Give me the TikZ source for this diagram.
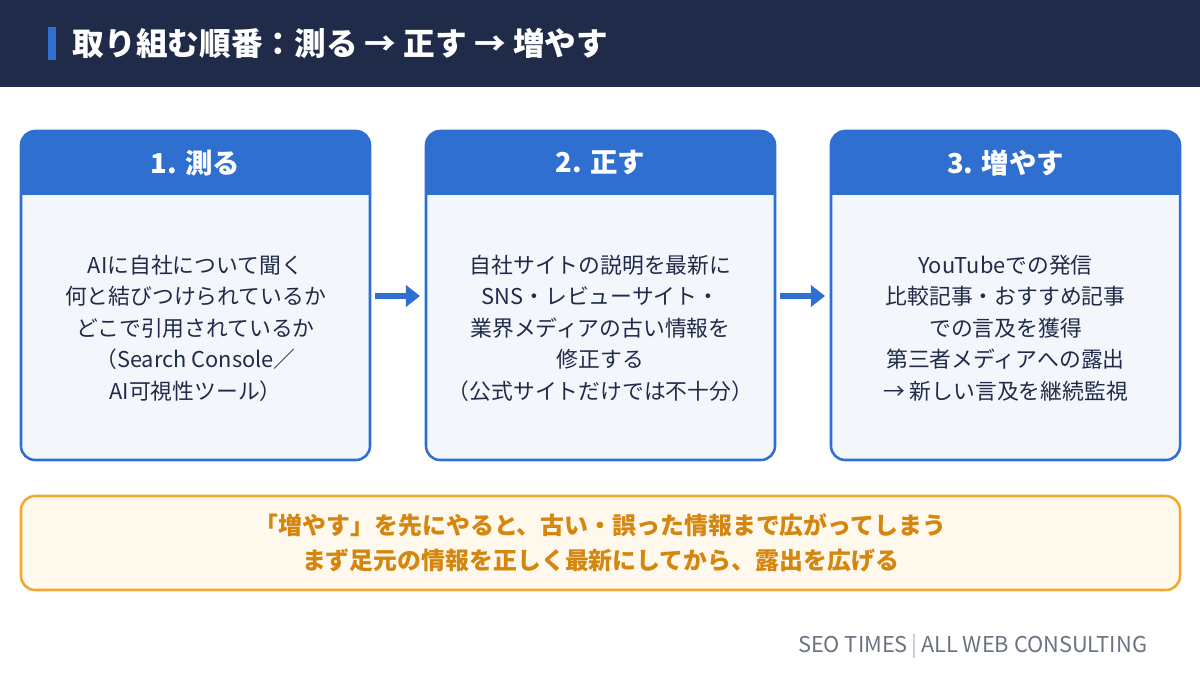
\documentclass[tikz,border=0pt]{standalone}
\usepackage{fontspec}
\setmainfont{Noto Sans CJK JP}
\usetikzlibrary{arrows.meta}
\definecolor{navy}{HTML}{1F2B48}
\definecolor{mainblue}{HTML}{2F6FCF}
\definecolor{bodyfill}{HTML}{F3F7FC}
\definecolor{warnfill}{HTML}{FFF8EC}
\definecolor{warnline}{HTML}{F0A830}
\definecolor{warntext}{HTML}{D4860F}
\definecolor{foot}{HTML}{6B7280}
\tikzset{
  steptitle/.style={text=white, font=\fontsize{19.5}{22}\selectfont\bfseries},
  stepbody/.style={text=navy, align=center, font=\fontsize{15.5}{22.4}\selectfont},
  flow/.style={mainblue, line width=4.2pt, -{Triangle[length=10pt,width=15pt]}},
}
\begin{document}
\begin{tikzpicture}[x=0.025cm, y=-0.025cm]
  \useasboundingbox (0,0) rectangle (1200,675);
  % header band
  \fill[navy] (0,0) rectangle (1200,87);
  \fill[mainblue] (48,27) rectangle (56,60);
  \node[anchor=west, text=white, font=\fontsize{22.5}{26}\selectfont\bfseries] (title) at (68,43)
    {取り組む順番：測る → 正す → 増やす};
  % three steps
  \foreach \x/\name/\head/\body in {
      21/s1/1. 測る/{AIに自社について聞く\\何と結びつけられているか\\どこで引用されているか\\（Search Console／\\AI可視性ツール）},
      426/s2/2. 正す/{自社サイトの説明を最新に\\SNS・レビューサイト・\\業界メディアの古い情報を\\修正する\\（公式サイトだけでは不十分）},
      831/s3/3. 増やす/{YouTubeでの発信\\比較記事・おすすめ記事\\での言及を獲得\\第三者メディアへの露出\\→ 新しい言及を継続監視}} {
    \draw[mainblue, line width=1.8pt, fill=bodyfill, rounded corners=10] (\x,131) rectangle ++(349,329);
    \begin{scope}
      \clip (\x,131) rectangle ++(349,64);
      \fill[mainblue, rounded corners=10] (\x,131) rectangle ++(349,329);
    \end{scope}
    \node[steptitle] (\name-head) at (\x+174.5,163) {\head};
    \node[stepbody] (\name) at (\x+174.5,328) {\body};
    \coordinate (\name-w) at (\x-6,296);
    \coordinate (\name-e) at (\x+354,296);
  }
  \draw[flow] (s1-e) -- (s2-w);
  \draw[flow] (s2-e) -- (s3-w);
  % warning
  \draw[warnline, line width=1.8pt, fill=warnfill, rounded corners=10] (21,496) rectangle (1180,590);
  \node[text=warntext, align=center, font=\fontsize{17}{24.8}\selectfont\bfseries] (warn) at (600.5,543)
    {「増やす」を先にやると、古い・誤った情報まで広がってしまう\\まず足元の情報を正しく最新にしてから、露出を広げる};
  % footer
  \node[anchor=east, text=foot, font=\fontsize{15.5}{18}\selectfont] (footer) at (1152,646)
    {SEO TIMES\,{\color{foot!50}|}\,ALL WEB CONSULTING};
\end{tikzpicture}
\end{document}
